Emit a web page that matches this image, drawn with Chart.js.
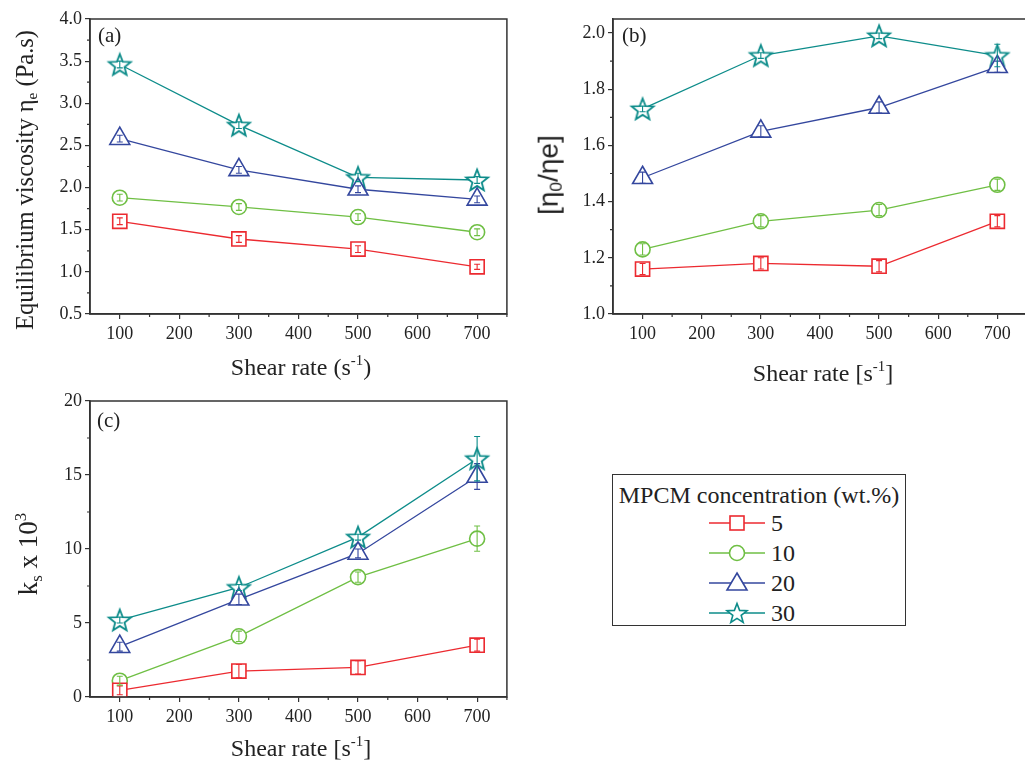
<!DOCTYPE html>
<html>
<head>
<meta charset="utf-8">
<script src="https://cdn.jsdelivr.net/npm/chart.js@4.4.1/dist/chart.umd.min.js"></script>
<style>
  body { margin: 0; width: 1025px; height: 760px; overflow: hidden; position: relative; background: #fff;
         font-family: "Liberation Serif", serif; color: #222; }
  canvas { position: absolute; }
  .t { position: absolute; white-space: nowrap; transform: translate(-50%, -50%); line-height: 1; }
  .r { transform: translate(-50%, -50%) rotate(-90deg); }
  .t sub { font-size: 0.62em; vertical-align: -0.25em; }
  .t sup { font-size: 0.62em; vertical-align: 0.7em; }
  .panel { position: absolute; font-size: 21px; line-height: 1; }
  #legend { position: absolute; left: 612px; top: 474px; width: 294px; height: 152px;
            border: 1.5px solid #333; box-sizing: border-box; font-family: "Liberation Serif", serif; }
  #legend .title { position: absolute; left: 0; right: 0; top: 7px; text-align: center; font-size: 24px; }
  #legend .row { position: absolute; left: 96px; height: 26px; display: flex; align-items: center; font-size: 24px; }
  #legend svg { margin-right: 6px; }
</style>
</head>
<body>
<canvas id="chartA" width="520" height="380" style="left:0;top:0"></canvas>
<canvas id="chartB" width="520" height="380" style="left:520px;top:0"></canvas>
<canvas id="chartC" width="520" height="375" style="left:0;top:385px"></canvas>

<div class="panel" style="left:98px;top:25px">(a)</div>
<div class="panel" style="left:622px;top:25px">(b)</div>
<div class="panel" style="left:97px;top:410px">(c)</div>

<div class="t r" style="left:26px;top:180px;font-size:24.5px">Equilibrium viscosity η<sub>e</sub> (Pa.s)</div>
<div class="t" style="left:301px;top:366px;font-size:24px">Shear rate (s<sup>-1</sup>)</div>
<div class="t r" style="left:550px;top:175px;font-size:28px;font-family:'Liberation Sans',sans-serif">[η<sub>0</sub>/ηe]</div>
<div class="t" style="left:823px;top:372px;font-size:24px">Shear rate [s<sup>-1</sup>]</div>
<div class="t r" style="left:29px;top:554px;font-size:27px">k<sub>s</sub> x 10<sup>3</sup></div>
<div class="t" style="left:301px;top:747px;font-size:24px">Shear rate [s<sup>-1</sup>]</div>

<div id="legend"><div class="title">MPCM concentration (wt.%)</div></div>

<script>
// shear rates (s^-1) and MPCM concentrations (wt.%)
const shearRates = [100, 300, 500, 700];
const concLabels = ['5', '10', '20', '30'];

// (a) equilibrium viscosity (Pa.s)
const eta5 = [1.60, 1.39, 1.27, 1.06];
const eta10 = [1.88, 1.77, 1.65, 1.47];
const eta20 = [2.58, 2.21, 1.98, 1.86];
const eta30 = [3.46, 2.74, 2.12, 2.09];
const etaErr5 = [0.04, 0.04, 0.04, 0.03];
const etaErr10 = [0.04, 0.04, 0.04, 0.04];
const etaErr20 = [0.04, 0.04, 0.04, 0.04];
const etaErr30 = [0.04, 0.04, 0.05, 0.04];

// (b) eta0 / eta_e
const ratio5 = [1.16, 1.18, 1.17, 1.33];
const ratio10 = [1.23, 1.33, 1.37, 1.46];
const ratio20 = [1.485, 1.65, 1.735, 1.88];
const ratio30 = [1.73, 1.92, 1.99, 1.92];
const ratioErr5 = [0.02, 0.02, 0.02, 0.02];
const ratioErr10 = [0.02, 0.02, 0.02, 0.02];
const ratioErr20 = [0.02, 0.02, 0.02, 0.02];
const ratioErr30 = [0.01, 0.01, 0.01, 0.04];

// (c) ks x 10^3
const ks5 = [0.45, 1.75, 2.0, 3.5];
const ks10 = [1.1, 4.1, 8.1, 10.7];
const ks20 = [3.4, 6.6, 9.7, 14.9];
const ks30 = [5.2, 7.4, 10.8, 16.1];
const ksErr5 = [0.3, 0.45, 0.45, 0.4];
const ksErr10 = [0.3, 0.35, 0.35, 0.85];
const ksErr20 = [0.3, 0.35, 0.3, 0.87];
const ksErr30 = [0.2, 0.2, 0.2, 1.5];

// axis tick values
const xTicks = [100, 200, 300, 400, 500, 600, 700];
const yTicksA = [0.5, 1.0, 1.5, 2.0, 2.5, 3.0, 3.5, 4.0];
const yTicksB = [1.0, 1.2, 1.4, 1.6, 1.8, 2.0];
const yTicksC = [0, 5, 10, 15, 20];

const colors = ['#ec2a30', '#6fbf44', '#34479e', '#0d8c8a'];
const axisColor = '#333';

Chart.defaults.font.family = 'Liberation Serif';
const tickFont = { family: 'Liberation Serif', size: 18 };

function starImage(color) {
    const c = document.createElement('canvas');
    c.width = c.height = 28;
    const g = c.getContext('2d');
    g.beginPath();
    for (let i = 0; i < 10; i++) {
        const a = -Math.PI / 2 + i * Math.PI / 5;
        const r = i % 2 ? 4.9 : 11.5;
        g.lineTo(14 + r * Math.cos(a), 15 + r * Math.sin(a));
    }
    g.closePath();
    g.fillStyle = '#fff';
    g.fill();
    g.strokeStyle = color;
    g.lineWidth = 1.8;
    g.stroke();
    return c;
}

const styles = [
    { pointStyle: 'rect', pointRadius: 10 },
    { pointStyle: 'circle', pointRadius: 7.5 },
    { pointStyle: 'triangle', pointRadius: 11.5 },
    { pointStyle: starImage(colors[3]), pointRadius: 11 }
];

function series(i, values, errors) {
    return {
        label: concLabels[i],
        data: values.map((v, j) => ({ x: shearRates[j], y: v })),
        errors: errors,
        borderColor: colors[i],
        borderWidth: 1.3,
        pointBackgroundColor: '#fff',
        pointBorderColor: colors[i],
        pointBorderWidth: 1.6,
        pointStyle: styles[i].pointStyle,
        pointRadius: styles[i].pointRadius,
        tension: 0
    };
}

// error bars drawn through the y scale
const errorBars = {
    id: 'errorBars',
    afterDatasetsDraw(chart) {
        const ctx = chart.ctx;
        const y = chart.scales.y;
        ctx.save();
        chart.data.datasets.forEach((ds, i) => {
            const meta = chart.getDatasetMeta(i);
            ctx.strokeStyle = ds.borderColor;
            ctx.lineWidth = 1.1;
            meta.data.forEach((pt, j) => {
                const v = ds.data[j].y, e = ds.errors[j];
                const top = y.getPixelForValue(v + e), bot = y.getPixelForValue(v - e);
                ctx.beginPath();
                ctx.moveTo(pt.x, top); ctx.lineTo(pt.x, bot);
                ctx.moveTo(pt.x - 3, top); ctx.lineTo(pt.x + 3, top);
                ctx.moveTo(pt.x - 3, bot); ctx.lineTo(pt.x + 3, bot);
                ctx.stroke();
            });
        });
        ctx.restore();
    }
};

// box frame and minor ticks
const frame = {
    id: 'frame',
    afterDraw(chart, args, opts) {
        const { ctx, chartArea: a, scales: { x, y } } = chart;
        ctx.save();
        ctx.strokeStyle = axisColor;
        ctx.lineWidth = 1.5;
        ctx.strokeRect(a.left, a.top, a.right - a.left, a.bottom - a.top);
        ctx.lineWidth = 1.2;
        ctx.beginPath();
        for (let v = 150; v <= 750; v += 100) {
            const px = x.getPixelForValue(v);
            ctx.moveTo(px, a.bottom); ctx.lineTo(px, a.bottom + 3);
        }
        for (let v = opts.yMinorStart; v < y.max; v += opts.yMinorStep) {
            const py = y.getPixelForValue(v);
            ctx.moveTo(a.left, py); ctx.lineTo(a.left - 3, py);
        }
        ctx.stroke();
        ctx.restore();
    }
};

function makeChart(id, datasets, yMin, yMax, yTicks, digits, pad, yWidth, xHeight, minor) {
    const axisCommon = {
        grid: { display: true, drawOnChartArea: false, drawTicks: true, tickLength: 5, color: axisColor, lineWidth: 1.2 },
        border: { display: true, color: axisColor, width: 1.5 }
    };
    return new Chart(document.getElementById(id), {
        type: 'line',
        data: { datasets: datasets },
        options: {
            responsive: false,
            animation: false,
            devicePixelRatio: 1,
            layout: { padding: pad },
            plugins: { legend: { display: false }, tooltip: { enabled: false }, frame: minor },
            scales: {
                x: {
                    type: 'linear', min: 50, max: 750,
                    ...axisCommon,
                    afterBuildTicks: s => { s.ticks = xTicks.map(v => ({ value: v })); },
                    afterFit: s => { s.height = xHeight; },
                    ticks: { font: tickFont, color: '#222', padding: 4, maxRotation: 0 }
                },
                y: {
                    min: yMin, max: yMax,
                    ...axisCommon,
                    afterBuildTicks: s => { s.ticks = yTicks.map(v => ({ value: v })); },
                    afterFit: s => { s.width = yWidth; },
                    ticks: { font: tickFont, color: '#222', padding: 3,
                             callback: v => v.toFixed(digits) }
                }
            }
        },
        plugins: [errorBars, frame]
    });
}

function drawAll() {
    makeChart('chartA', [
        series(0, eta5, etaErr5), series(1, eta10, etaErr10),
        series(2, eta20, etaErr20), series(3, eta30, etaErr30)
    ], 0.5, 4.0, yTicksA, 1, { left: 0, top: 19, right: 9, bottom: 36 }, 90, 30,
       { yMinorStart: 0.75, yMinorStep: 0.5 });

    makeChart('chartB', [
        series(0, ratio5, ratioErr5), series(1, ratio10, ratioErr10),
        series(2, ratio20, ratioErr20), series(3, ratio30, ratioErr30)
    ], 1.0, 2.05, yTicksB, 1, { left: 0, top: 19, right: 6, bottom: 36 }, 93, 30,
       { yMinorStart: 1.1, yMinorStep: 0.2 });

    makeChart('chartC', [
        series(0, ks5, ksErr5), series(1, ks10, ksErr10),
        series(2, ks20, ksErr20), series(3, ks30, ksErr30)
    ], 0, 20, yTicksC, 0, { left: 0, top: 16, right: 9, bottom: 33 }, 90, 30,
       { yMinorStart: 2.5, yMinorStep: 5 });
}

// legend rows
const legend = document.getElementById('legend');
const shapes = [
    c => `<rect x="21" y="6" width="14" height="14" fill="#fff" stroke="${c}" stroke-width="1.6"/>`,
    c => `<circle cx="28" cy="13" r="7.5" fill="#fff" stroke="${c}" stroke-width="1.6"/>`,
    c => `<polygon points="28,3 38,20 18,20" fill="#fff" stroke="${c}" stroke-width="1.6"/>`,
    c => {
        let p = [];
        for (let i = 0; i < 10; i++) {
            const a = -Math.PI / 2 + i * Math.PI / 5, r = i % 2 ? 4.4 : 10.5;
            p.push((28 + r * Math.cos(a)).toFixed(1) + ',' + (14 + r * Math.sin(a)).toFixed(1));
        }
        return `<polygon points="${p.join(' ')}" fill="#fff" stroke="${c}" stroke-width="1.6"/>`;
    }
];
concLabels.forEach((lab, i) => {
    const row = document.createElement('div');
    row.className = 'row';
    row.style.top = (35 + i * 30) + 'px';
    row.innerHTML = `<svg width="56" height="26"><line x1="0" y1="13" x2="56" y2="13" stroke="${colors[i]}" stroke-width="1.3"/>${shapes[i](colors[i])}</svg><span>${lab}</span>`;
    legend.appendChild(row);
});

Promise.all([
    document.fonts.load('18px "Liberation Serif"'),
    document.fonts.load('28px "Liberation Sans"')
]).then(drawAll, drawAll);
</script>
</body>
</html>
